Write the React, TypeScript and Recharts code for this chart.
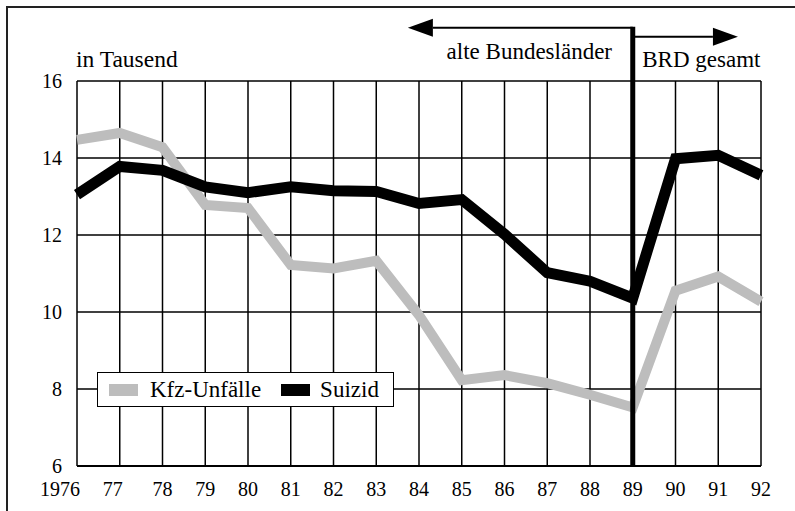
import React from 'react';
import {
  LineChart,
  Line,
  XAxis,
  YAxis,
  CartesianGrid,
  ReferenceLine,
  Legend,
} from 'recharts';

// Jahre 1976–1992, Werte in Tausend
const YEARS = [1976, 1977, 1978, 1979, 1980, 1981, 1982, 1983, 1984, 1985, 1986, 1987, 1988, 1989, 1990, 1991, 1992];
const KFZ_UNFAELLE = [14.47, 14.65, 14.28, 12.78, 12.7, 11.22, 11.13, 11.33, 9.92, 8.23, 8.36, 8.15, 7.85, 7.52, 10.55, 10.92, 10.27];
const SUIZID = [13.05, 13.78, 13.68, 13.25, 13.1, 13.25, 13.15, 13.13, 12.82, 12.92, 12.02, 11.02, 10.8, 10.36, 13.98, 14.07, 13.55];
const Y_TICKS = [6, 8, 10, 12, 14, 16];

const Y_LABEL = 'in Tausend';
const SPLIT_YEAR = 1989;
const LEFT_LABEL = 'alte Bundesländer';
const RIGHT_LABEL = 'BRD gesamt';
// Pfeile über dem Diagramm (in Achsenwerten)
const LEFT_ARROW = { tipYear: 1983.74, y: 17.38 };
const RIGHT_ARROW = { tipYear: 1991.46, y: 17.15 };

const SERIES = [
  { key: 'kfz', label: 'Kfz-Unfälle', color: '#bdbdbd', width: 10 },
  { key: 'suizid', label: 'Suizid', color: '#000000', width: 11 },
];

const FONT = '"Liberation Serif", "Times New Roman", serif';

const data = YEARS.map((year, i) => ({ year, kfz: KFZ_UNFAELLE[i], suizid: SUIZID[i] }));

const XTick = ({ x, y, payload }: any) => {
  const first = payload.value === YEARS[0];
  const second = payload.value === YEARS[1];
  const label = first ? String(payload.value) : String(payload.value).slice(2);
  return (
    <text
      x={first ? x + 3 : second ? x - 7 : x}
      y={y}
      dy="0.71em"
      textAnchor={first ? 'end' : 'middle'}
      fontSize={20}
      fontFamily={FONT}
      fill="#000"
    >
      {label}
    </text>
  );
};

const YTick = ({ x, y, payload }: any) => (
  <text x={x} y={y} dy="0.355em" textAnchor="end" fontSize={20} fontFamily={FONT} fill="#000">
    {payload.value}
  </text>
);

const Arrow = (props: any) => {
  const { x1, y1, x2, y2 } = props;
  const dir = Math.sign(x2 - x1);
  const head = 25;
  const half = 9;
  return (
    <g>
      <line x1={x1} y1={y1} x2={x2 - dir * head} y2={y2} stroke="#000" strokeWidth={2} />
      <polygon points={`${x2},${y2} ${x2 - dir * head},${y2 - half} ${x2 - dir * head},${y2 + half}`} fill="#000" />
    </g>
  );
};

const arrowLabel = (text: string, dx: number, dy: number) => (props: any) => {
  const vb = props.viewBox || {};
  return (
    <text x={vb.x + vb.width / 2 + dx} y={vb.y + dy} textAnchor="middle" fontSize={23} fontFamily={FONT} fill="#000">
      {text}
    </text>
  );
};

const YTitle = (props: any) => {
  const vb = props.viewBox || {};
  return (
    <text x={vb.x + vb.width - 1} y={vb.y - 14} fontSize={23.5} fontFamily={FONT} fill="#000">
      {Y_LABEL}
    </text>
  );
};

const LegendBox = () => (
  <div
    style={{
      display: 'flex',
      alignItems: 'center',
      border: '1.5px solid #000',
      background: '#fff',
      paddingLeft: 11,
      fontFamily: FONT,
      fontSize: 23,
      color: '#000',
      boxSizing: 'border-box',
      width: 297,
      height: 35,
      whiteSpace: 'nowrap',
    }}
  >
    {SERIES.map((s, i) => (
      <React.Fragment key={s.key}>
        <span style={{ display: 'inline-block', width: 29, height: 12, background: s.color, marginLeft: i === 0 ? 0 : 20 }} />
        <span style={{ marginLeft: i === 0 ? 12 : 10, lineHeight: 1 }}>{s.label}</span>
      </React.Fragment>
    ))}
  </div>
);

export default function App() {
  return (
    <div style={{ position: 'absolute', left: 0, top: 0, width: 795, height: 511, background: '#fff', overflow: 'hidden' }}>
      <div style={{ position: 'absolute', left: 6, top: 6, width: 830, height: 560, border: '2px solid #222' }} />
      <LineChart
        width={795}
        height={511}
        data={data}
        margin={{ top: 81, right: 34, bottom: 0, left: 0 }}
        style={{ position: 'absolute', left: 0, top: 0 }}
      >
        <CartesianGrid stroke="#000" strokeWidth={1.5} />
        <XAxis
          dataKey="year"
          type="number"
          domain={[YEARS[0], YEARS[YEARS.length - 1]]}
          ticks={YEARS}
          interval={0}
          height={45}
          tickLine={false}
          tickSize={0}
          tickMargin={16}
          axisLine={{ stroke: '#000', strokeWidth: 2 }}
          tick={<XTick />}
        />
        <YAxis
          type="number"
          domain={[6, 16]}
          ticks={Y_TICKS}
          width={77}
          tickLine={false}
          tickSize={0}
          tickMargin={15}
          axisLine={false}
          tick={<YTick />}
          label={<YTitle />}
        />
        {SERIES.map((s) => (
          <Line
            key={s.key}
            dataKey={s.key}
            name={s.label}
            stroke={s.color}
            strokeWidth={s.width}
            strokeLinejoin="miter"
            strokeLinecap="butt"
            dot={false}
            activeDot={false}
            isAnimationActive={false}
          />
        ))}
        <ReferenceLine
          segment={[{ x: SPLIT_YEAR, y: 6 }, { x: SPLIT_YEAR, y: LEFT_ARROW.y + 0.03 }]}
          stroke="#000"
          strokeWidth={5}
          ifOverflow="visible"
        />
        <ReferenceLine
          segment={[{ x: SPLIT_YEAR, y: LEFT_ARROW.y }, { x: LEFT_ARROW.tipYear, y: LEFT_ARROW.y }]}
          ifOverflow="visible"
          shape={<Arrow />}
          label={arrowLabel(LEFT_LABEL, 9, 31)}
        />
        <ReferenceLine
          segment={[{ x: SPLIT_YEAR, y: RIGHT_ARROW.y }, { x: RIGHT_ARROW.tipYear, y: RIGHT_ARROW.y }]}
          ifOverflow="visible"
          shape={<Arrow />}
          label={arrowLabel(RIGHT_LABEL, 16, 30)}
        />
        <Legend
          layout="horizontal"
          verticalAlign="middle"
          align="center"
          content={<LegendBox />}
          wrapperStyle={{ left: 97, top: 372, width: 297, height: 35 }}
        />
      </LineChart>
    </div>
  );
}
